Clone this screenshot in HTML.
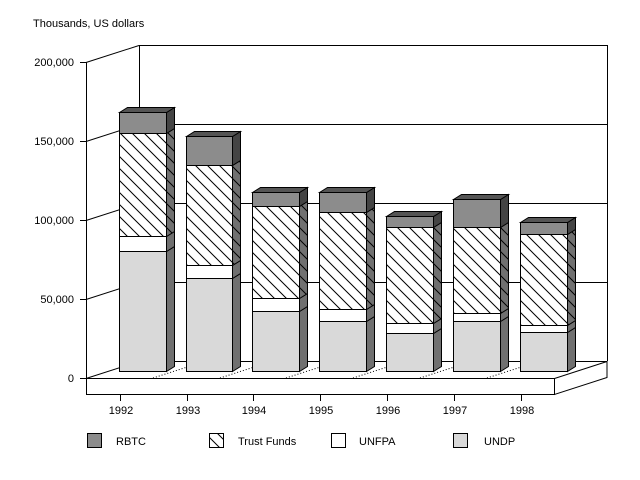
<!DOCTYPE html>
<html><head><meta charset="utf-8"><style>
html,body{margin:0;padding:0;background:#fff;}
svg{display:block;font-family:"Liberation Sans",Arial,sans-serif;}
</style></head><body>
<svg width="640" height="480" viewBox="0 0 640 480" xmlns="http://www.w3.org/2000/svg">
<defs>
<pattern id="h" patternUnits="userSpaceOnUse" width="12" height="12">
<rect width="12" height="12" fill="#fff"/>
<path d="M0,0 L12,12 M-6,6 L6,18 M6,-6 L18,6" stroke="#000" stroke-width="1"/>
</pattern>
<pattern id="hs" patternUnits="userSpaceOnUse" width="12" height="12">
<rect width="12" height="12" fill="#707070"/>
<path d="M0,0 L12,12 M-6,6 L6,18 M6,-6 L18,6" stroke="#000" stroke-width="1"/>
</pattern>
</defs>
<text x="33" y="27" font-size="11">Thousands, US dollars</text>
<!-- back wall -->
<g stroke="#000" fill="none" stroke-width="1">
<polyline points="139.5,361 139.5,45.5 607.5,45.5 607.5,361"/>
<line x1="139" y1="124.5" x2="607" y2="124.5"/>
<line x1="139" y1="203.5" x2="607" y2="203.5"/>
<line x1="139" y1="282.5" x2="607" y2="282.5"/>
<line x1="86" y1="62.5" x2="139" y2="45.5"/>
<line x1="86" y1="141.5" x2="139" y2="124.5"/>
<line x1="86" y1="220.5" x2="139" y2="203.5"/>
<line x1="86" y1="299.5" x2="139" y2="282.5"/>
<line x1="86.5" y1="62" x2="86.5" y2="394"/>
<!-- floor -->
<polyline points="86,378.5 139,361.5 607,361.5 554.5,378.5 554.5,394.5 607,377.5 607,361"/>
<line x1="86" y1="378.5" x2="555" y2="378.5"/>
<line x1="86" y1="394.5" x2="555" y2="394.5"/>
<g stroke-dasharray="1,2">
<line x1="153" y1="378" x2="206" y2="361"/>
<line x1="220" y1="378" x2="273" y2="361"/>
<line x1="286" y1="378" x2="339" y2="361"/>
<line x1="353" y1="378" x2="406" y2="361"/>
<line x1="420" y1="378" x2="473" y2="361"/>
<line x1="487" y1="378" x2="540" y2="361"/>
</g>
<!-- y ticks -->
<line x1="80" y1="62.5" x2="86" y2="62.5"/>
<line x1="80" y1="141.5" x2="86" y2="141.5"/>
<line x1="80" y1="220.5" x2="86" y2="220.5"/>
<line x1="80" y1="299.5" x2="86" y2="299.5"/>
<line x1="80" y1="378.5" x2="86" y2="378.5"/>
<!-- x ticks -->
<line x1="120.5" y1="394" x2="120.5" y2="401"/>
<line x1="187.5" y1="394" x2="187.5" y2="401"/>
<line x1="253.5" y1="394" x2="253.5" y2="401"/>
<line x1="320.5" y1="394" x2="320.5" y2="401"/>
<line x1="387.5" y1="394" x2="387.5" y2="401"/>
<line x1="454.5" y1="394" x2="454.5" y2="401"/>
<line x1="521.5" y1="394" x2="521.5" y2="401"/>
</g>
<g font-size="11" text-anchor="end">
<text x="74" y="66">200,000</text>
<text x="74" y="145">150,000</text>
<text x="74" y="224">100,000</text>
<text x="74" y="303">50,000</text>
<text x="74" y="382">0</text>
</g>
<g font-size="11" text-anchor="middle">
<text x="121" y="414">1992</text>
<text x="188" y="414">1993</text>
<text x="254" y="414">1994</text>
<text x="321" y="414">1995</text>
<text x="388" y="414">1996</text>
<text x="455" y="414">1997</text>
<text x="522" y="414">1998</text>
</g>
<!-- bars -->
<g stroke="#000" stroke-width="1" id="bars"></g>
<g stroke="#000" stroke-width="1">
<!-- 1992 x=119 -->
<g transform="translate(119.5,0.5)">
<rect x="0" y="251" width="47" height="120" fill="#d9d9d9"/>
<rect x="0" y="236" width="47" height="15" fill="#fff"/>
<rect x="0" y="133" width="47" height="103" fill="url(#h)"/>
<rect x="0" y="112" width="47" height="21" fill="#8c8c8c"/>
<polygon points="47,371 55,366 55,246 47,251" fill="#707070"/>
<polygon points="47,251 55,246 55,231 47,236" fill="#707070"/>
<polygon points="47,236 55,231 55,128 47,133" fill="url(#hs)"/>
<polygon points="47,133 55,128 55,107 47,112" fill="#444"/>
<polygon points="0,112 8,107 55,107 47,112" fill="#555"/>
</g>
<g transform="translate(186.5,0.5)">
<rect x="0" y="278" width="46" height="93" fill="#d9d9d9"/>
<rect x="0" y="265" width="46" height="13" fill="#fff"/>
<rect x="0" y="165" width="46" height="100" fill="url(#h)"/>
<rect x="0" y="136" width="46" height="29" fill="#8c8c8c"/>
<polygon points="46,371 54,366 54,273 46,278" fill="#707070"/>
<polygon points="46,278 54,273 54,260 46,265" fill="#707070"/>
<polygon points="46,265 54,260 54,160 46,165" fill="url(#hs)"/>
<polygon points="46,165 54,160 54,131 46,136" fill="#444"/>
<polygon points="0,136 8,131 54,131 46,136" fill="#555"/>
</g>
<g transform="translate(252.5,0.5)">
<rect x="0" y="311" width="47" height="60" fill="#d9d9d9"/>
<rect x="0" y="298" width="47" height="13" fill="#fff"/>
<rect x="0" y="206" width="47" height="92" fill="url(#h)"/>
<rect x="0" y="192" width="47" height="14" fill="#8c8c8c"/>
<polygon points="47,371 55,366 55,306 47,311" fill="#707070"/>
<polygon points="47,311 55,306 55,293 47,298" fill="#707070"/>
<polygon points="47,298 55,293 55,201 47,206" fill="url(#hs)"/>
<polygon points="47,206 55,201 55,187 47,192" fill="#444"/>
<polygon points="0,192 8,187 55,187 47,192" fill="#555"/>
</g>
<g transform="translate(319.5,0.5)">
<rect x="0" y="321" width="47" height="50" fill="#d9d9d9"/>
<rect x="0" y="309" width="47" height="12" fill="#fff"/>
<rect x="0" y="212" width="47" height="97" fill="url(#h)"/>
<rect x="0" y="192" width="47" height="20" fill="#8c8c8c"/>
<polygon points="47,371 55,366 55,316 47,321" fill="#707070"/>
<polygon points="47,321 55,316 55,304 47,309" fill="#707070"/>
<polygon points="47,309 55,304 55,207 47,212" fill="url(#hs)"/>
<polygon points="47,212 55,207 55,187 47,192" fill="#444"/>
<polygon points="0,192 8,187 55,187 47,192" fill="#555"/>
</g>
<g transform="translate(386.5,0.5)">
<rect x="0" y="333" width="47" height="38" fill="#d9d9d9"/>
<rect x="0" y="323" width="47" height="10" fill="#fff"/>
<rect x="0" y="227" width="47" height="96" fill="url(#h)"/>
<rect x="0" y="216" width="47" height="11" fill="#8c8c8c"/>
<polygon points="47,371 55,366 55,328 47,333" fill="#707070"/>
<polygon points="47,333 55,328 55,318 47,323" fill="#707070"/>
<polygon points="47,323 55,318 55,222 47,227" fill="url(#hs)"/>
<polygon points="47,227 55,222 55,211 47,216" fill="#444"/>
<polygon points="0,216 8,211 55,211 47,216" fill="#555"/>
</g>
<g transform="translate(453.5,0.5)">
<rect x="0" y="321" width="47" height="50" fill="#d9d9d9"/>
<rect x="0" y="313" width="47" height="8" fill="#fff"/>
<rect x="0" y="227" width="47" height="86" fill="url(#h)"/>
<rect x="0" y="199" width="47" height="28" fill="#8c8c8c"/>
<polygon points="47,371 55,366 55,316 47,321" fill="#707070"/>
<polygon points="47,321 55,316 55,308 47,313" fill="#707070"/>
<polygon points="47,313 55,308 55,222 47,227" fill="url(#hs)"/>
<polygon points="47,227 55,222 55,194 47,199" fill="#444"/>
<polygon points="0,199 8,194 55,194 47,199" fill="#555"/>
</g>
<g transform="translate(520.5,0.5)">
<rect x="0" y="332" width="47" height="39" fill="#d9d9d9"/>
<rect x="0" y="325" width="47" height="7" fill="#fff"/>
<rect x="0" y="234" width="47" height="91" fill="url(#h)"/>
<rect x="0" y="222" width="47" height="12" fill="#8c8c8c"/>
<polygon points="47,371 55,366 55,327 47,332" fill="#707070"/>
<polygon points="47,332 55,327 55,320 47,325" fill="#707070"/>
<polygon points="47,325 55,320 55,229 47,234" fill="url(#hs)"/>
<polygon points="47,234 55,229 55,217 47,222" fill="#444"/>
<polygon points="0,222 8,217 55,217 47,222" fill="#555"/>
</g>
<!-- legend -->
<rect x="87.5" y="433.5" width="14" height="14" fill="#8c8c8c"/>
<rect x="209.5" y="433.5" width="14" height="14" fill="url(#h)"/>
<rect x="331.5" y="433.5" width="14" height="14" fill="#fff"/>
<rect x="453.5" y="433.5" width="14" height="14" fill="#d9d9d9"/>
</g>
<g font-size="11">
<text x="116" y="445">RBTC</text>
<text x="238" y="445">Trust Funds</text>
<text x="359" y="445">UNFPA</text>
<text x="484" y="445">UNDP</text>
</g>
</svg>
</body></html>
